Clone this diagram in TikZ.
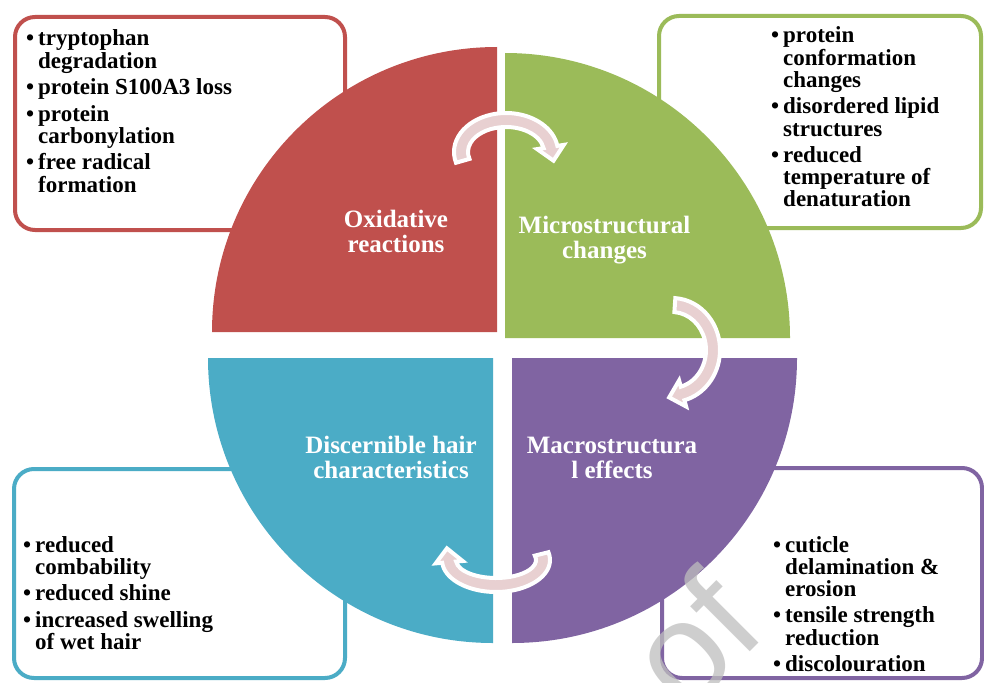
\documentclass[tikz,border=0pt]{standalone}
\usepackage{fontspec}
\setmainfont{Liberation Serif}
\newfontfamily\wmfont{Liberation Sans}
\definecolor{qred}{HTML}{C0504D}
\definecolor{qgreen}{HTML}{9BBB59}
\definecolor{qpurple}{HTML}{8064A2}
\definecolor{qblue}{HTML}{4BACC6}
\definecolor{arrpink}{HTML}{E8D0D1}
\definecolor{wmgray}{RGB}{190,190,190}
\newcommand\bl[1]{\hbox{\makebox[12pt][l]{\textbullet}#1}}
\newcommand\cl[1]{\hbox{\hspace*{12pt}#1}}
\newcommand\gap{\vskip4.3pt}
\newcommand\twoline[2]{\vtop{\halign{\hfil##\hfil\cr #1\cr #2\cr}}}
\newcommand\arrW{7}
\newcommand\arrH{13.5}
\newcommand\arrL{14}
% #1 cx, #2 cy, #3 a, #4 b, #5 start angle, #6 end angle
\newcommand\circarr[6]{%
  \begin{scope}[shift={(#1,#2)}]
    \pgfmathsetmacro\nn{veclen(#3*sin(#6),#4*cos(#6))}
    \pgfmathsetmacro\tx{#3*cos(#6)-\arrL*#3*sin(#6)/\nn}
    \pgfmathsetmacro\ty{#4*sin(#6)+\arrL*#4*cos(#6)/\nn}
    \filldraw[carrow] ({#5}:{#3+\arrW} and {#4+\arrW})
      arc[start angle=#5, end angle=#6, x radius=#3+\arrW, y radius=#4+\arrW]
      -- ({#6}:{#3+\arrH} and {#4+\arrH})
      -- (\tx,\ty)
      -- ({#6}:{#3-\arrH} and {#4-\arrH})
      -- ({#6}:{#3-\arrW} and {#4-\arrW})
      arc[start angle=#6, end angle=#5, x radius=#3-\arrW, y radius=#4-\arrW]
      -- cycle;
  \end{scope}}
\begin{document}
\begin{tikzpicture}[x=1pt,y=-1pt,
  infobox/.style={line width=4pt, fill=white, rounded corners=20pt},
  boxtext/.style={inner sep=0pt, font=\bfseries\fontsize{23}{22.2}\selectfont},
  qlabel/.style={inner sep=0pt, text=white, font=\bfseries\fontsize{25}{25.5}\selectfont},
  carrow/.style={fill=arrpink, draw=white, line width=4pt, line join=miter, miter limit=4},
  wm/.style={inner sep=0pt, text=wmgray, text opacity=0.75, font=\wmfont\fontsize{140}{140}\selectfont}]
\useasboundingbox (0,0) rectangle (984,682);
\clip (0,0) rectangle (984,682);
\fill[white] (0,0) rectangle (984,682);

% corner boxes
\draw[infobox, draw=qred] (15,17) rectangle (345,230);
\draw[infobox, draw=qgreen] (659,16) rectangle (981,228);
\draw[infobox, draw=qblue] (14,469) rectangle (345,678);
\draw[infobox, draw=qpurple] (662,468) rectangle (982,678);

% box texts
\node[boxtext, anchor=base west] (redtxt) at (26,46) {\vtop{\bl{tryptophan}\cl{degradation}\gap
  \bl{protein S100A3 loss}\gap\bl{protein}\cl{carbonylation}\gap\bl{free radical}\cl{formation}}};
\node[boxtext, anchor=base west] (greentxt) at (771,43) {\vtop{\bl{protein}\cl{conformation}\cl{changes}\gap
  \bl{disordered lipid}\cl{structures}\gap\bl{reduced}\cl{temperature of}\cl{denaturation}}};
\node[boxtext, anchor=base west] (bluetxt) at (23,552) {\vtop{\bl{reduced}\cl{combability}\gap
  \bl{reduced shine}\gap\bl{increased swelling}\cl{of wet hair}}};
\node[boxtext, anchor=base west] (purpletxt) at (773,552) {\vtop{\bl{cuticle}\cl{delamination \&}\cl{erosion}\gap
  \bl{tensile strength}\cl{reduction}\gap\bl{discolouration}}};

% quadrants
\fill[qred] (497,332) -- ++(180:285) arc[start angle=180, end angle=270, radius=285] -- cycle;
\fill[qgreen] (505,338) -- ++(270:285) arc[start angle=270, end angle=360, radius=285] -- cycle;
\fill[qpurple] (512,358) -- ++(0:285) arc[start angle=0, end angle=90, radius=285] -- cycle;
\fill[qblue] (493,358) -- ++(90:285) arc[start angle=90, end angle=180, radius=285] -- cycle;

% quadrant labels
\node[qlabel, anchor=base] (oxl) at (396,227) {\twoline{Oxidative}{reactions}};
\node[qlabel, anchor=base] (mil) at (604.5,233) {\twoline{Microstructural}{changes}};
\node[qlabel, anchor=base] (dil) at (391,453) {\twoline{Discernible hair}{characteristics}};
\node[qlabel, anchor=base] (mal) at (612,453) {\twoline{Macrostructura}{l effects}};

% circular arrows
\circarr{506}{152}{45}{32}{164}{351}
\circarr{672}{350}{41}{45}{-86}{75}
\circarr{496}{560}{47}{25}{-14}{175}

% watermark
\node[wm, rotate=45, anchor=base east] (wmark) at (769,633) {of};
\end{tikzpicture}
\end{document}
